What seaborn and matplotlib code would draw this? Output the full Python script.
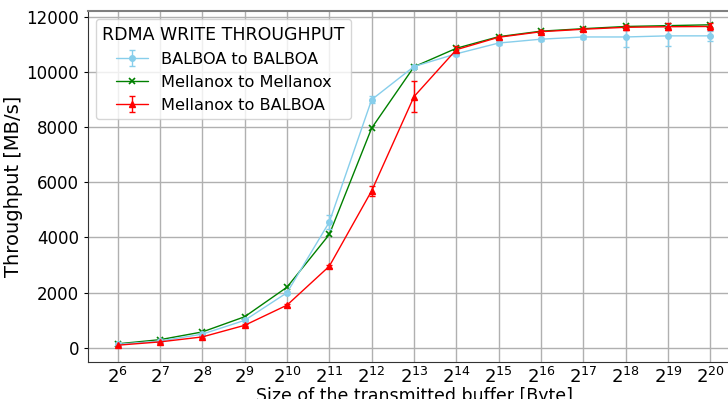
import matplotlib
matplotlib.use("Agg")
import matplotlib.pyplot as plt
import seaborn as sns
import numpy as np
import pandas as pd

exponents = [6, 7, 8, 9, 10, 11, 12, 13, 14, 15, 16, 17, 18, 19, 20]
tick_labels = [f"$2^{{{e}}}$" for e in exponents]

balboa_balboa = [130, 250, 500, 1000, 2000, 4560, 8990, 10190, 10650, 11040, 11180, 11260, 11260, 11300, 11300]
balboa_balboa_err = [30, 30, 30, 40, 60, 250, 120, 60, 80, 60, 60, 80, 360, 380, 170]
mellanox_mellanox = [150, 300, 580, 1130, 2200, 4110, 7960, 10180, 10850, 11270, 11470, 11560, 11640, 11670, 11700]
mellanox_balboa = [100, 220, 400, 820, 1550, 2960, 5690, 9100, 10800, 11250, 11450, 11540, 11610, 11630, 11640]
mellanox_balboa_err = [30, 30, 30, 40, 50, 60, 180, 570, 150, 60, 60, 60, 80, 120, 120]

series_names = ["BALBOA to BALBOA", "Mellanox to Mellanox", "Mellanox to BALBOA"]
colors = ["skyblue", "green", "red"]

sns.set_style("ticks")
plt.rcParams['font.family'] = ['DejaVu Sans']
plt.rcParams['text.color'] = 'black'
plt.rcParams['axes.labelcolor'] = 'black'
plt.rcParams['xtick.color'] = 'black'
plt.rcParams['ytick.color'] = 'black'

fig = plt.figure(figsize=(7.28, 3.99), dpi=100)
ax = fig.add_axes([88/728, 37.5/399, (740-88)/728, (361.5-11)/399])

df = pd.DataFrame({"exp": exponents, "y": mellanox_mellanox})
sns.lineplot(data=df, x="exp", y="y", ax=ax, color=colors[1], marker="x",
             markersize=5, markeredgewidth=1.2, markeredgecolor=colors[1],
             linewidth=1, legend=False)
h_green = ax.lines[-1]

h_blue = ax.errorbar(exponents, balboa_balboa, yerr=balboa_balboa_err, color=colors[0],
                     marker="o", markersize=4, linewidth=1, capsize=2.5, elinewidth=1,
                     markerfacecolor=colors[0])
h_red = ax.errorbar(exponents, mellanox_balboa, yerr=mellanox_balboa_err, color=colors[2],
                    marker="^", markersize=4, linewidth=1, capsize=2.5, elinewidth=1)

ax.set_xlim(5.3, 20.7)
ax.set_ylim(-490, 12200)
ax.set_xticks(exponents)
ax.set_xticklabels(tick_labels, fontsize=13)
ax.set_yticks([0, 2000, 4000, 6000, 8000, 10000, 12000])
ax.tick_params(axis='y', labelsize=12, length=3)
ax.tick_params(axis='x', length=0, pad=4)
ax.grid(True, color="#b0b0b0", linewidth=1)
ax.set_axisbelow(True)
ax.set_xlabel("Size of the transmitted buffer [Byte]", fontsize=12.5, labelpad=0)
ax.set_ylabel("Throughput [MB/s]", fontsize=14, labelpad=2)
for s in ["left", "bottom"]:
    ax.spines[s].set_color("#333333")
ax.spines["top"].set_color("#808080")
ax.spines["top"].set_linewidth(1.5)
ax.spines["right"].set_visible(False)

leg = ax.legend([h_blue, h_green, h_red], series_names, title="RDMA WRITE THROUGHPUT",
                loc="upper left", fontsize=11.6, title_fontsize=12.5, framealpha=0.8,
                borderaxespad=0.5, handlelength=2.0, labelspacing=0.5, handletextpad=0.8)

fig.savefig("out.png", dpi=100)
